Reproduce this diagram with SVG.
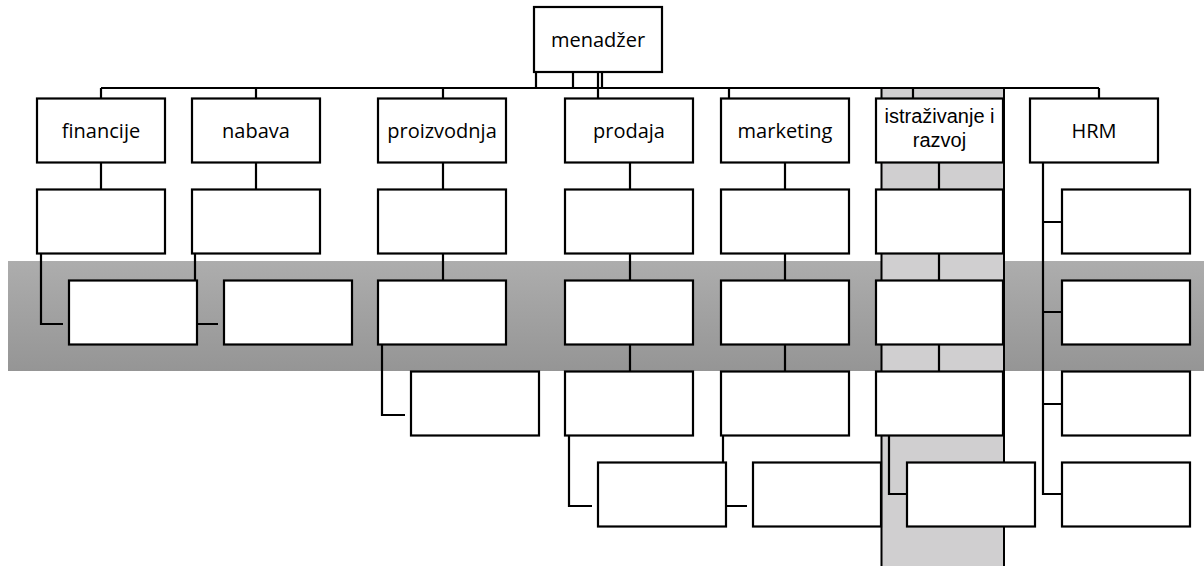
<svg xmlns="http://www.w3.org/2000/svg" width="1204" height="566" viewBox="0 0 1204 566">
<defs>
<linearGradient id="band" x1="0" y1="0" x2="0" y2="1">
<stop offset="0" stop-color="#adadad"/>
<stop offset="1" stop-color="#959595"/>
</linearGradient>
<style>
.box{fill:#fff;stroke:#000;stroke-width:2.2}
.ln{fill:none;stroke:#000;stroke-width:2.2}
.t{font-family:"Open Sans","Liberation Sans",sans-serif;font-size:20px;fill:#000;text-anchor:middle}
.t2{font-family:"Liberation Sans",Arial,sans-serif;font-size:20px}
</style>
</defs>
<rect width="1204" height="566" fill="#fff"/>
<rect x="8" y="261" width="1196" height="110" fill="url(#band)"/>
<rect x="881.5" y="88" width="122.5" height="482" fill="#d0cfd0" stroke="#000" stroke-width="2"/>
<g id="connectors" class="ln">
<path d="M101 88H1099"/>
<path d="M536 72V88M573 72V88M598 72V88M602 72V88"/>
<path d="M101 88V99M256 88V99M443 88V99M598 88V99M729 88V99M913 88V99M1099 88V99"/>
<path d="M101 162V190M256 162V190M443 162V190M630 162V190M785 162V190M939 162V190"/>
<path d="M443 254V281M630 254V281M785 254V281M939 254V281"/>
<path d="M630 345V372M785 345V372M939 345V372"/>
<path d="M41 254V324H63M195 254V324H218"/>
<path d="M382 345V415H405"/>
<path d="M569 435V506H592M723 435V506H747M889 435V494H907"/>
<path d="M1043 162V494H1062M1043 222H1062M1043 312H1062M1043 404H1062"/>
</g>
<g id="menadzer"><rect class="box" x="534" y="7" width="128" height="65"/><text class="t" x="598" y="47">menadžer</text></g>
<g id="financije"><rect class="box" x="37" y="98.5" width="128" height="64"/><text class="t" x="101" y="138">financije</text></g>
<g id="nabava"><rect class="box" x="192" y="98.5" width="128" height="64"/><text class="t" x="256" y="138">nabava</text></g>
<g id="proizvodnja"><rect class="box" x="378" y="98.5" width="128" height="64"/><text class="t" x="442" y="138">proizvodnja</text></g>
<g id="prodaja"><rect class="box" x="565" y="98.5" width="128" height="64"/><text class="t" x="629" y="138">prodaja</text></g>
<g id="marketing"><rect class="box" x="721" y="98.5" width="128" height="64"/><text class="t" x="785" y="138">marketing</text></g>
<g id="istrazivanje"><rect class="box" x="876" y="98.5" width="127" height="64"/><text class="t t2" x="939.5" y="123">istraživanje i</text><text class="t t2" x="939.5" y="147">razvoj</text></g>
<g id="hrm"><rect class="box" x="1030" y="98.5" width="128" height="64"/><text class="t" x="1094" y="138">HRM</text></g>
<g id="fin-2"><rect class="box" x="37" y="189.5" width="128" height="64"/></g>
<g id="nab-2"><rect class="box" x="192" y="189.5" width="128" height="64"/></g>
<g id="pro-2"><rect class="box" x="378" y="189.5" width="128" height="64"/></g>
<g id="prd-2"><rect class="box" x="565" y="189.5" width="128" height="64"/></g>
<g id="mkt-2"><rect class="box" x="721" y="189.5" width="128" height="64"/></g>
<g id="ist-2"><rect class="box" x="876" y="189.5" width="127" height="64"/></g>
<g id="hrm-2"><rect class="box" x="1062" y="189.5" width="128" height="64"/></g>
<g id="fin-3"><rect class="box" x="69" y="280.5" width="128" height="64"/></g>
<g id="nab-3"><rect class="box" x="224" y="280.5" width="128" height="64"/></g>
<g id="pro-3"><rect class="box" x="378" y="280.5" width="128" height="64"/></g>
<g id="prd-3"><rect class="box" x="565" y="280.5" width="128" height="64"/></g>
<g id="mkt-3"><rect class="box" x="721" y="280.5" width="128" height="64"/></g>
<g id="ist-3"><rect class="box" x="876" y="280.5" width="127" height="64"/></g>
<g id="hrm-3"><rect class="box" x="1062" y="280.5" width="128" height="64"/></g>
<g id="pro-4"><rect class="box" x="411" y="371.5" width="128" height="64"/></g>
<g id="prd-4"><rect class="box" x="565" y="371.5" width="128" height="64"/></g>
<g id="mkt-4"><rect class="box" x="721" y="371.5" width="128" height="64"/></g>
<g id="ist-4"><rect class="box" x="876" y="371.5" width="127" height="64"/></g>
<g id="hrm-4"><rect class="box" x="1062" y="371.5" width="128" height="64"/></g>
<g id="prd-5"><rect class="box" x="598" y="462.5" width="128" height="64"/></g>
<g id="mkt-5"><rect class="box" x="753" y="462.5" width="128" height="64"/></g>
<g id="ist-5"><rect class="box" x="907" y="462.5" width="128" height="64"/></g>
<g id="hrm-5"><rect class="box" x="1062" y="462.5" width="128" height="64"/></g>
</svg>
